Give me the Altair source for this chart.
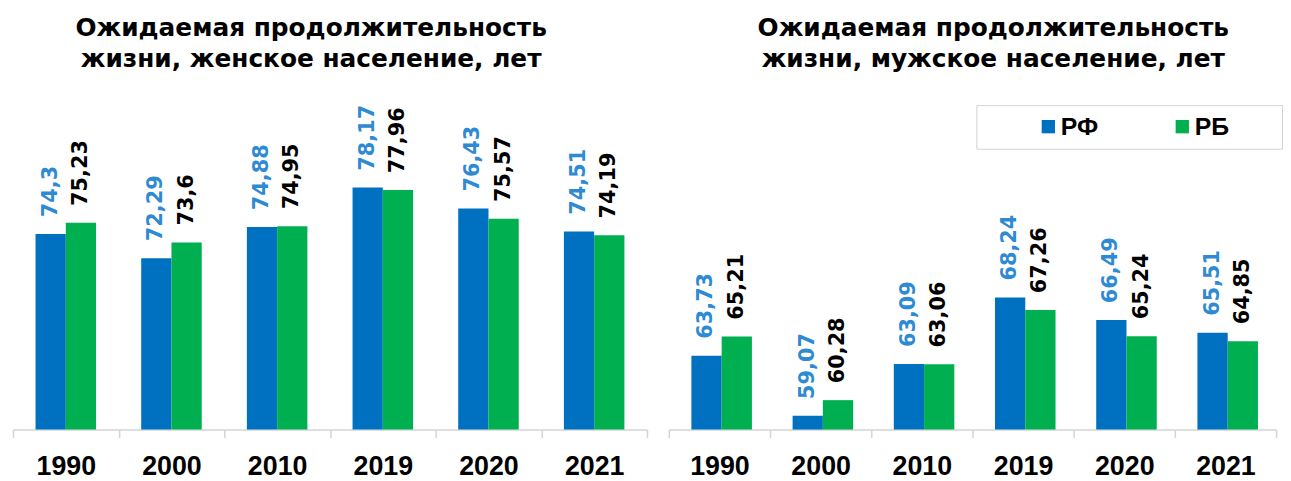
import altair as alt
import pandas as pd

years = ["1990", "2000", "2010", "2019", "2020", "2021"]
rf_female = [74.3, 72.29, 74.88, 78.17, 76.43, 74.51]
rb_female = [75.23, 73.6, 74.95, 77.96, 75.57, 74.19]
rf_male = [63.73, 59.07, 63.09, 68.24, 66.49, 65.51]
rb_male = [65.21, 60.28, 63.06, 67.26, 65.24, 64.85]
series = ["РФ", "РБ"]
colors = ["#0070C0", "#00B050"]
title_female = ["Ожидаемая продолжительность", "жизни, женское население, лет"]
title_male = ["Ожидаемая продолжительность", "жизни, мужское население, лет"]


def make_df(rf, rb):
    rows = []
    for y, a, b in zip(years, rf, rb):
        rows.append({"year": y, "country": series[0], "value": a, "label": str(a).replace(".", ",")})
        rows.append({"year": y, "country": series[1], "value": b, "label": str(b).replace(".", ",")})
    return pd.DataFrame(rows)


def panel(df, title, width, ymax, tdx, pad_outer, legend):
    x = alt.X(
        "year:N", sort=years, title=None,
        scale=alt.Scale(paddingInner=0, paddingOuter=0),
        axis=alt.Axis(
            labelAngle=0, tickBand="extent", domainColor="#d4d4d4", domainWidth=1.5,
            tickColor="#d4d4d4", tickWidth=1.5, tickSize=8, labelFont="Liberation Sans",
            labelFontWeight="bold", labelFontSize=27, labelColor="#000000", labelPadding=16,
        ),
    )
    xo = alt.XOffset("country:N", sort=series, scale=alt.Scale(paddingInner=0, paddingOuter=pad_outer))
    y = alt.Y("value:Q", stack=None, scale=alt.Scale(domain=[58, ymax], nice=False, zero=False), axis=None)
    bars = alt.Chart(df).mark_bar().encode(
        x=x, xOffset=xo, y=y,
        color=alt.Color("country:N", sort=series, scale=alt.Scale(domain=series, range=colors), legend=legend),
    )
    text = alt.Chart(df).mark_text(
        angle=270, align="left", baseline="middle", dx=17,
        font="DejaVu Sans", fontWeight="bold", fontSize=21,
    ).encode(
        x=x, xOffset=xo, y=y, text="label:N",
        color=alt.condition(alt.datum.country == series[0], alt.value("#2E8AD3"), alt.value("#000000")),
    )
    return alt.layer(bars, text).properties(
        width=width, height=330,
        title=alt.TitleParams(
            text=title, font="DejaVu Sans", fontWeight="bold", fontSize=25, color="#000000",
            anchor="middle", dx=tdx, offset=30, lineHeight=32,
        ),
    )


legend = alt.Legend(
    title=" ", titleOrient="right", titlePadding=44, orient="none", legendX=310, legendY=3,
    direction="horizontal", symbolType="square", symbolSize=180, symbolStrokeWidth=0,
    labelFont="Liberation Sans", labelFontWeight="bold", labelFontSize=25, labelColor="#000000",
    labelOffset=0, columnPadding=21, padding=9, symbolOffset=51, strokeColor="#d4d4d4",
)

left = panel(make_df(rf_female, rb_female), title_female, 639, 58 + 330 / 12.09, -19, 0.746, None)
right = panel(make_df(rf_male, rb_male), title_male, 612, 58 + 330 / 13.0, 21, 0.7, legend)

chart = alt.hconcat(left, right, spacing=20).resolve_scale(color="independent").resolve_legend(
    color="independent"
).properties(padding={"left": 4, "top": 6, "right": 0, "bottom": 0}).configure_view(stroke=None)

chart.save("out.html", embed_options={"renderer": "svg", "actions": False})
